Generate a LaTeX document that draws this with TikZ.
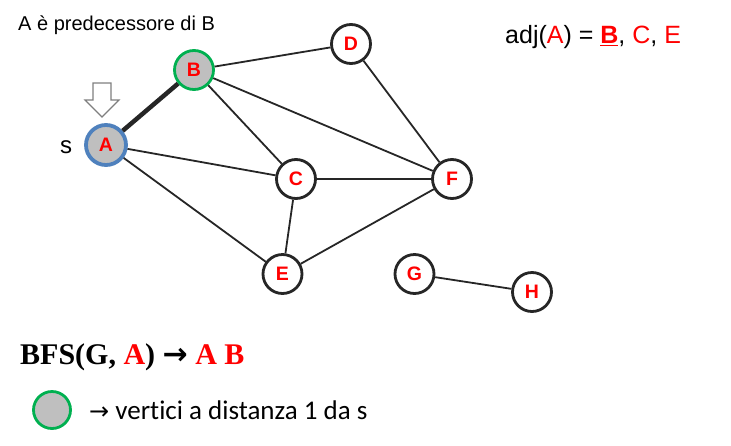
\documentclass[tikz,border=0pt]{standalone}
\usepackage{fontspec}
\setmainfont{Liberation Sans}
\newfontfamily\serifb{Liberation Serif}
\newfontfamily\calib[Ligatures=NoCommon]{Carlito}
\newfontfamily\dejavu{DejaVu Sans}
\definecolor{edgec}{HTML}{262626}
\definecolor{fillg}{HTML}{BFBFBF}
\definecolor{blueb}{HTML}{4F81BD}
\definecolor{greenb}{HTML}{00B050}
\definecolor{redt}{HTML}{FF0000}
\definecolor{arrg}{HTML}{7F7F7F}
\begin{document}
\begin{tikzpicture}[x=1pt,y=-1pt,
  vtx/.style={circle,draw=edgec,line width=2.8pt,fill=white,minimum size=39pt,inner sep=0pt,
    font=\fontsize{19.5}{19.5}\selectfont\bfseries,text=redt},
  srcv/.style={vtx,draw=blueb,line width=3.8pt,fill=fillg,minimum size=40pt},
  visv/.style={vtx,draw=greenb,fill=fillg},
  edg/.style={draw=edgec,line width=1.8pt},
  lbl/.style={inner sep=0pt,anchor=west}]
\useasboundingbox (0,0) rectangle (731,445);
\node[srcv] (A) at (106,145) {A};
\node[visv] (B) at (194,70) {B};
\node[vtx] (D) at (351,44) {D};
\node[vtx] (C) at (296,179) {C};
\node[vtx] (F) at (452,179) {F};
\node[vtx] (E) at (282.5,274) {E};
\node[vtx] (G) at (414.5,274) {G};
\node[vtx] (H) at (532,292) {H};
\draw[draw=edgec,line width=4.5pt] (A) -- (B);
\draw[edg] (A) -- (C);
\draw[edg] (A) -- (E);
\draw[edg] (B) -- (D);
\draw[edg] (B) -- (C);
\draw[edg] (B) -- (F);
\draw[edg] (D) -- (F);
\draw[edg] (C) -- (F);
\draw[edg] (C) -- (E);
\draw[edg] (E) -- (F);
\draw[edg] (G) -- (H);
% hollow arrow
\draw[draw=arrg,fill=white,line width=1.2pt,line join=miter]
  (93,83) -- (111,83) -- (111,100) -- (119,100) -- (102,117) -- (85,100) -- (93,100) -- cycle;
\node[lbl,font=\fontsize{24}{24}\selectfont] (s) at (60,147) {s};
\node[lbl,font=\fontsize{20}{20}\selectfont] (t1) at (18,25) {A è predecessore di B};
\node[lbl,font=\fontsize{25}{25}\selectfont] (adj) at (505,37)
  {adj(\textcolor{redt}{A}) = \textcolor{redt}{\underline{\textbf{B}}}, \textcolor{redt}{C}, \textcolor{redt}{E}};
\node[lbl,font=\fontsize{30}{30}\selectfont\serifb\bfseries] (bfs) at (20,357)
  {BFS(G, \textcolor{redt}{A}) {\dejavu\bfseries\fontsize{30}{30}\selectfont →} \textcolor{redt}{A B}};
\node[visv,minimum size=37pt] (leg) at (52,410) {};
\node[lbl,font=\fontsize{27}{27}\selectfont\calib] (legt) at (89,410) {{\dejavu\fontsize{24}{24}\selectfont →} vertici a distanza 1 da s};
\end{tikzpicture}
\end{document}
